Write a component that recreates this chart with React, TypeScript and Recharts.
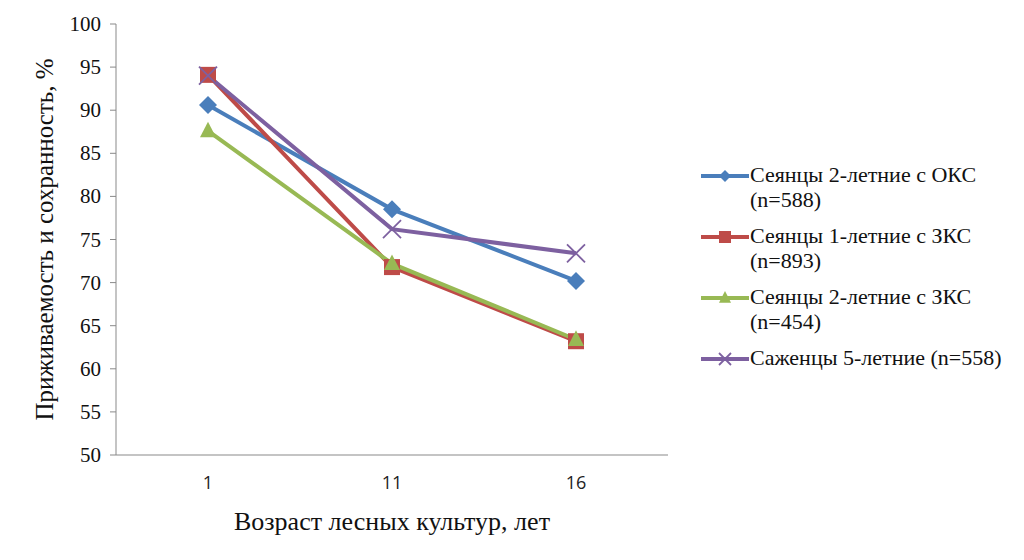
import React from 'react';
import { LineChart, Line, XAxis, YAxis } from 'recharts';

const ages = ['1', '11', '16'];
const okc2 = [90.6, 78.5, 70.2];
const zkc1 = [94.1, 71.8, 63.2];
const zkc2 = [87.6, 72.2, 63.4];
const sazh5 = [94.0, 76.2, 73.4];
const yTicks = [50, 55, 60, 65, 70, 75, 80, 85, 90, 95, 100];
const boundaryTicks = [0, 1, 2, 3];

const seriesInfo = [
  { key: 'okc2', name: 'Сеянцы 2-летние с ОКС (n=588)', lines: ['Сеянцы 2-летние с ОКС', '(n=588)'], color: '#4A7EBB', shape: 'diamond' },
  { key: 'zkc1', name: 'Сеянцы 1-летние с ЗКС (n=893)', lines: ['Сеянцы 1-летние с ЗКС', '(n=893)'], color: '#BE4B48', shape: 'square' },
  { key: 'zkc2', name: 'Сеянцы 2-летние с ЗКС (n=454)', lines: ['Сеянцы 2-летние с ЗКС', '(n=454)'], color: '#98B954', shape: 'triangle' },
  { key: 'sazh5', name: 'Саженцы 5-летние (n=558)', lines: ['Саженцы 5-летние (n=558)'], color: '#7D60A0', shape: 'x' },
];

const data = ages.map((a, i) => ({
  age: a,
  okc2: okc2[i],
  zkc1: zkc1[i],
  zkc2: zkc2[i],
  sazh5: sazh5[i],
}));

const serif = "'Liberation Serif', 'DejaVu Serif', serif";
const sans = "'Open Sans', 'Liberation Sans', sans-serif";

function Marker(shape: string, color: string, cx: number, cy: number, s: number) {
  if (shape === 'diamond') {
    return <polygon points={`${cx},${cy - s} ${cx + s},${cy} ${cx},${cy + s} ${cx - s},${cy}`} fill={color} />;
  }
  if (shape === 'square') {
    return <rect x={cx - s} y={cy - s} width={2 * s} height={2 * s} fill={color} />;
  }
  if (shape === 'triangle') {
    return <polygon points={`${cx},${cy - s * 1.15} ${cx + s},${cy + s * 0.8} ${cx - s},${cy + s * 0.8}`} fill={color} />;
  }
  return (
    <g stroke={color} strokeWidth={1.8}>
      <line x1={cx - s} y1={cy - s} x2={cx + s} y2={cy + s} />
      <line x1={cx - s} y1={cy + s} x2={cx + s} y2={cy - s} />
    </g>
  );
}

function makeDot(shape: string, color: string) {
  return (props: any) => {
    const { cx, cy, index } = props;
    if (cx == null || cy == null) return <g key={index} />;
    const size = shape === 'x' ? 9 : shape === 'diamond' ? 9 : 8;
    return <g key={index}>{Marker(shape, color, cx, cy, size)}</g>;
  };
}

export default function App() {
  return (
    <div style={{ position: 'absolute', left: 0, top: 0, width: 1024, height: 560, background: '#fff' }}>
      <LineChart width={1024} height={560} data={data} margin={{ top: 24, right: 356, bottom: 75, left: 56 }}>
        <XAxis
          xAxisId="grid"
          type="number"
          domain={[0, 3]}
          ticks={boundaryTicks}
          height={0}
          axisLine={false}
          tick={false}
          tickLine={{ stroke: '#898989' }}
          tickSize={6}
          allowDataOverflow
        />
        <XAxis
          dataKey="age"
          height={30}
          stroke="#898989"
          padding={{ left: 92, right: 92 }}
          tickLine={false}
          interval={0}
          tick={(props: any) => {
            const { x, y, payload } = props;
            return (
              <text x={x} y={y + 26} textAnchor="middle" style={{ fontFamily: sans }} fontSize={18} fill="#222">
                {payload.value}
              </text>
            );
          }}
          label={(props: any) => {
            const vb = props.viewBox || {};
            return (
              <text x={vb.x + vb.width / 2} y={530} textAnchor="middle" style={{ fontFamily: serif }} fontSize={26} fill="#111">
                Возраст лесных культур, лет
              </text>
            );
          }}
        />
        <YAxis
          domain={[50, 100]}
          ticks={yTicks}
          width={60}
          stroke="#898989"
          tickSize={6}
          interval={0}
          tick={(props: any) => {
            const { x, y, payload } = props;
            return (
              <text x={x - 7} y={y + 7} textAnchor="end" style={{ fontFamily: serif }} fontSize={21} fill="#111">
                {payload.value}
              </text>
            );
          }}
          label={(props: any) => {
            const vb = props.viewBox || {};
            const cy = vb.y + vb.height / 2;
            return (
              <text x={53} y={cy} transform={`rotate(-90 53 ${cy})`} textAnchor="middle" style={{ fontFamily: serif }} fontSize={25} fill="#111">
                Приживаемость и сохранность, %
              </text>
            );
          }}
        />
        {seriesInfo.map((s) => (
          <Line
            key={s.key}
            dataKey={s.key}
            name={s.name}
            stroke={s.color}
            strokeWidth={4}
            dot={makeDot(s.shape, s.color)}
            activeDot={false}
            isAnimationActive={false}
          />
        ))}
      </LineChart>
      <div style={{ position: 'absolute', left: 700, top: 162, fontFamily: serif, fontSize: 22, color: '#111', lineHeight: '25px' }}>
        {seriesInfo.map((s) => (
          <div key={s.key} style={{ display: 'flex', alignItems: 'flex-start', marginBottom: 11 }}>
            <svg width={50} height={25} style={{ flex: 'none' }}>
              <line x1={1} y1={14} x2={49} y2={14} stroke={s.color} strokeWidth={4} />
              {Marker(s.shape, s.color, 25, 14, 6)}
            </svg>
            <div>
              {s.lines.map((l, j) => (
                <div key={j} style={{ whiteSpace: 'nowrap' }}>{l}</div>
              ))}
            </div>
          </div>
        ))}
      </div>
    </div>
  );
}
